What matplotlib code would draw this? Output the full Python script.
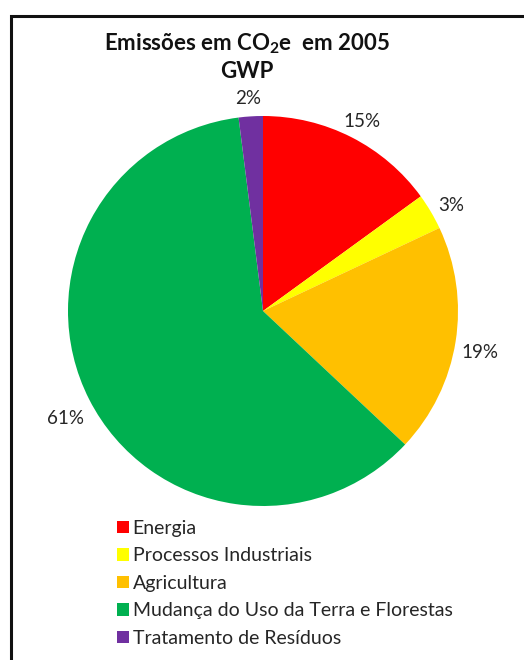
import matplotlib
matplotlib.use("Agg")
import matplotlib.pyplot as plt
import matplotlib.transforms as mtransforms
from matplotlib.lines import Line2D
from matplotlib.patches import Patch

# Emission shares by sector (%)
sectors = ["Energia", "Processos Industriais", "Agricultura",
           "Mudança do Uso da Terra e Florestas", "Tratamento de Resíduos"]
shares = [15, 3, 19, 61, 2]
colors = ["#FF0000", "#FFFF00", "#FFC000", "#00B050", "#7030A0"]

plt.rcParams["font.family"] = ["Lato", "DejaVu Sans"]
plt.rcParams["mathtext.fontset"] = "custom"
plt.rcParams["mathtext.rm"] = "Lato"
plt.rcParams["mathtext.bf"] = "Lato:bold"

W, H = 524, 660
fig = plt.figure(figsize=(W / 100, H / 100), dpi=100)

# pie area: centre (263, 311) px, radius 195 px
ax = fig.add_axes([68 / W, 1 - 506 / H, 390 / W, 390 / H])
wedges, texts, autotexts = ax.pie(
    shares, colors=colors, startangle=90, counterclock=False,
    autopct=lambda p: f"{p:.0f}%", pctdistance=1.13, radius=1.0,
    wedgeprops=dict(linewidth=0),
    textprops=dict(fontsize=13.5, color="#262626"))
for t in autotexts:
    t.set_transform(mtransforms.offset_copy(t.get_transform(), fig=fig,
                                            x=-1, y=-7, units="dots"))
ax.set_xlim(-1, 1)
ax.set_ylim(-1, 1)
ax.set_aspect("equal")
ax.axis("off")

# title
fig.text(247 / W, 1 - 44 / H, r"Emissões em CO$_\mathbf{2}$e  em 2005",
         ha="center", va="center", fontsize=16, fontweight="bold", color="#111111")
fig.text(247 / W, 1 - 71 / H, "GWP", ha="center", va="center",
         fontsize=16, fontweight="bold", color="#111111")

# legend
handles = [Patch(facecolor=c, edgecolor="none") for c in colors]
fig.legend(handles, sectors, loc="upper left",
           bbox_to_anchor=(107 / W, 1 - 510 / H), frameon=False,
           fontsize=14, handlelength=0.62, handleheight=0.62,
           handletextpad=0.2, labelspacing=0.54, borderpad=0,
           labelcolor="#262626")

# chart border (top and left edges)
fig.add_artist(Line2D([10.5 / W, 10.5 / W, 1.0], [0.0, 1 - 15.5 / H, 1 - 15.5 / H],
                      transform=fig.transFigure, color="#111111", linewidth=2.2,
                      solid_joinstyle="miter"))

fig.savefig("out.png", dpi=100)
